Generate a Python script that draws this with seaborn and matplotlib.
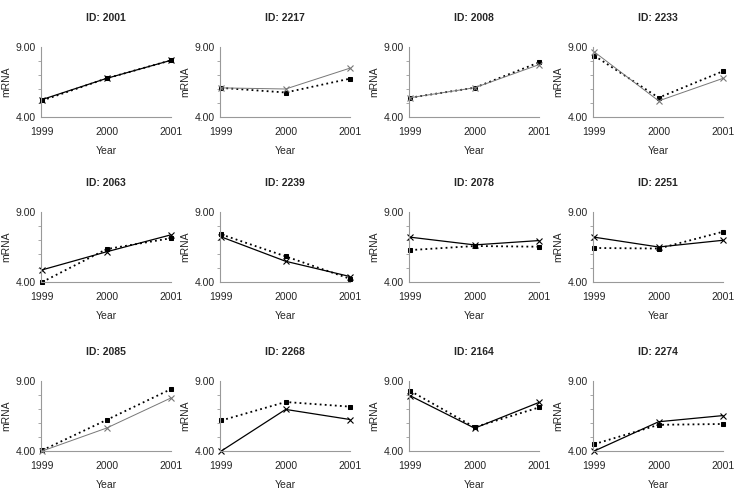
import numpy as np
import pandas as pd
import matplotlib
matplotlib.use("Agg")
import matplotlib.pyplot as plt
import seaborn as sns

sns.set_style("white")
plt.rcParams['font.family'] = ['Liberation Sans', 'DejaVu Sans']

years = [1999, 2000, 2001]
ids = ["2001", "2217", "2008", "2233",
       "2063", "2239", "2078", "2251",
       "2085", "2268", "2164", "2274"]

# solid line, x markers
cross_vals = [
    [5.25, 6.76, 8.05],
    [6.08, 6.00, 7.49],
    [5.38, 6.09, 7.74],
    [8.65, 5.15, 6.76],
    [4.87, 6.16, 7.37],
    [7.22, 5.48, 4.39],
    [7.20, 6.65, 6.96],
    [7.20, 6.50, 6.98],
    [4.00, 5.64, 7.79],
    [4.00, 6.97, 6.25],
    [7.94, 5.63, 7.47],
    [4.00, 6.09, 6.53],
]
# dotted line, square markers
square_vals = [
    [5.18, 6.76, 8.05],
    [6.08, 5.75, 6.74],
    [5.38, 6.09, 7.90],
    [8.38, 5.38, 7.27],
    [4.00, 6.35, 7.13],
    [7.40, 5.83, 4.23],
    [6.28, 6.57, 6.52],
    [6.43, 6.39, 7.59],
    [4.05, 6.22, 8.42],
    [6.18, 7.50, 7.17],
    [8.29, 5.70, 7.11],
    [4.49, 5.87, 5.93],
]

gray_ids = {"2217", "2008", "2233", "2085"}

W, H = 744, 497
fig = plt.figure(figsize=(W / 100, H / 100), dpi=100)

lefts = [41, 220, 409, 593]
tops = [47, 212, 381]
aw, ah = 130, 70

for i, pid in enumerate(ids):
    r, c = divmod(i, 4)
    ax = fig.add_axes([lefts[c] / W, 1 - (tops[r] + ah) / H, aw / W, ah / H])
    solid_col = "#777777" if pid in gray_ids else "black"
    solid_lw = 0.7 if pid in gray_ids else 0.9
    df = pd.DataFrame({"Year": years, "a": cross_vals[i], "b": square_vals[i]})
    sns.lineplot(data=df, x="Year", y="b", ax=ax, color="black", lw=1.3,
                 linestyle=(0, (1, 1.8)), marker="s", markersize=3.3,
                 markeredgecolor="black")
    sns.lineplot(data=df, x="Year", y="a", ax=ax, color=solid_col, lw=solid_lw,
                 marker="x", markersize=5, markeredgewidth=0.8,
                 markeredgecolor=solid_col)
    ax.set_xlim(1998.98, 2001.0)
    ax.set_ylim(4, 9)
    ax.set_yticks([4, 9])
    ax.set_yticklabels(["4.00", "9.00"])
    ax.set_yticks([5, 6, 7, 8], minor=True)
    ax.set_xticks(years)
    ax.set_xticklabels([str(y) for y in years])
    for s in ["top", "right"]:
        ax.spines[s].set_visible(False)
    for s in ["left", "bottom"]:
        ax.spines[s].set_color("#999999")
        ax.spines[s].set_linewidth(0.8)
    ax.tick_params(axis="x", which="major", direction="out", length=3,
                   width=0.7, color="#999999", labelsize=7.5, pad=4)
    ax.tick_params(axis="y", which="major", direction="out", length=3,
                   width=0.7, color="#999999", labelsize=7.5, pad=1)
    ax.tick_params(axis="y", which="minor", direction="out", length=2,
                   width=0.6, color="#999999", left=True)
    ax.set_xlabel("Year", fontsize=7.5, labelpad=7)
    ax.set_ylabel("mRNA", fontsize=7.5, labelpad=3)
    ax.set_title("ID: " + pid, fontsize=7.5, fontweight="bold", pad=19)
    ax.margins(x=0)
    for ln in ax.lines:
        ln.set_clip_on(False)

fig.savefig("out.png", dpi=100, facecolor="white")
